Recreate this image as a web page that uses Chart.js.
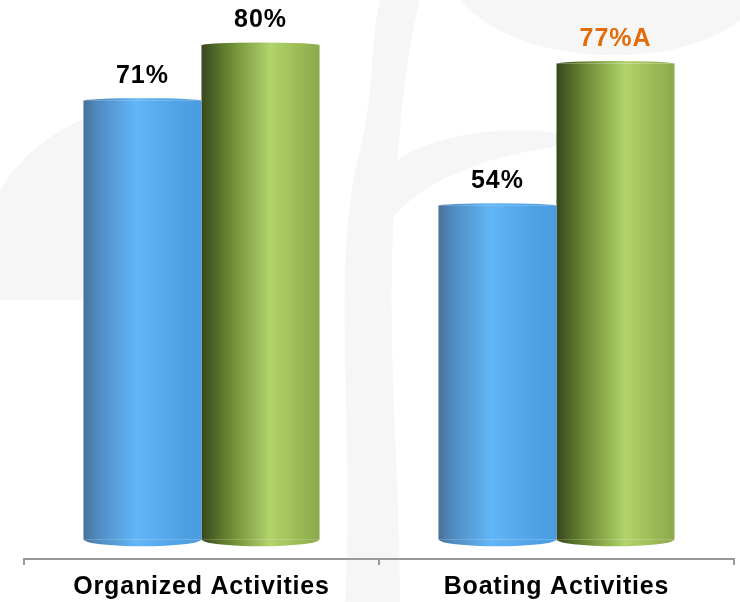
<!DOCTYPE html>
<html>
<head>
  <title>Activities</title>
  <script src="https://cdn.jsdelivr.net/npm/chart.js"></script>
  <style>
    html, body { margin: 0; background: #fff; overflow: hidden; }
    #wrap { width: 740px; height: 610px; }
  </style>
</head>
<body>
  <div id="wrap"><canvas id="chart"></canvas></div>
  <script>
    const categories = ['Organized Activities', 'Boating Activities'];
    const blueValues = [71, 54];
    const greenValues = [80, 77];
    const blueLabels = ['71%', '54%'];
    const greenLabels = ['80%', '77%A'];
    const greenLabelColors = ['#000000', '#e36c0a'];

    const blueStops = [[0, '#4a7096'], [0.12, '#4f8bc2'], [0.45, '#62b6f7'], [0.75, '#52a5e8'], [1, '#4a9bdf']];
    const greenStops = [[0, '#37471d'], [0.2, '#62802e'], [0.58, '#b2d46c'], [0.82, '#9cbb56'], [1, '#8ba94a']];

    function shade(c, bar, stops) {
      const left = bar.x - bar.width / 2;
      const g = c.createLinearGradient(left, 0, left + bar.width, 0);
      stops.forEach(s => g.addColorStop(s[0], s[1]));
      return g;
    }

    // faint tree watermark behind the chart, wider lettering like the original
    const backdrop = {
      id: 'backdrop',
      beforeLayout(chart) { chart.ctx.letterSpacing = '0.8px'; },
      beforeDraw(chart) {
        const c = chart.ctx;
        c.letterSpacing = '0.8px';
        c.save();
        c.fillStyle = '#f6f6f6';
        c.beginPath();
        c.moveTo(345, 610);
        c.bezierCurveTo(355, 420, 330, 260, 360, 150);
        c.bezierCurveTo(375, 90, 370, 40, 380, 0);
        c.lineTo(420, 0);
        c.bezierCurveTo(405, 60, 400, 120, 395, 200);
        c.bezierCurveTo(385, 330, 400, 460, 400, 610);
        c.closePath();
        c.fill();
        c.beginPath();
        c.moveTo(460, 0);
        c.bezierCurveTo(520, 70, 680, 70, 740, 20);
        c.lineTo(740, 0);
        c.closePath();
        c.fill();
        c.beginPath();
        c.moveTo(0, 190);
        c.bezierCurveTo(30, 140, 80, 115, 120, 110);
        c.lineTo(120, 300);
        c.lineTo(0, 300);
        c.closePath();
        c.fill();
        c.beginPath();
        c.moveTo(380, 175);
        c.bezierCurveTo(420, 130, 520, 120, 600, 140);
        c.bezierCurveTo(520, 150, 440, 165, 395, 215);
        c.closePath();
        c.fill();
        c.restore();
      },
      beforeDatasetsDraw(chart) {
        const c = chart.ctx;
        chart.data.datasets.forEach((ds, di) => {
          chart.getDatasetMeta(di).data.forEach(bar => {
            // each bar gets its own options so the gradient fits its own width
            bar.options = Object.assign({}, bar.options, {
              backgroundColor: shade(c, bar, di === 0 ? blueStops : greenStops)
            });
          });
        });
      }
    };

    // rounded ends and value labels
    const cylEnds = {
      id: 'cylEnds',
      afterDatasetsDraw(chart) {
        const c = chart.ctx;
        chart.data.datasets.forEach((ds, di) => {
          chart.getDatasetMeta(di).data.forEach((bar, i) => {
            const w = bar.width;
            c.save();
            c.fillStyle = shade(c, bar, di === 0 ? blueStops : greenStops);
            c.beginPath();
            c.ellipse(bar.x, bar.base, w / 2, 7, 0, 0, Math.PI);
            c.fill();
            c.beginPath();
            c.ellipse(bar.x, bar.y, w / 2, 2.5, 0, Math.PI, 2 * Math.PI);
            c.fill();
            c.letterSpacing = '1px';
            c.font = 'bold 25px "Liberation Sans", Arial, sans-serif';
            c.textAlign = 'center';
            c.textBaseline = 'middle';
            c.fillStyle = di === 0 ? '#000000' : greenLabelColors[i];
            c.fillText(di === 0 ? blueLabels[i] : greenLabels[i], bar.x, bar.y - 25);
            c.restore();
          });
        });
      }
    };

    new Chart(document.getElementById('chart'), {
      type: 'bar',
      data: {
        labels: categories,
        datasets: [
          { label: 'Blue', data: blueValues, backgroundColor: '#62b6f7' },
          { label: 'Green', data: greenValues, backgroundColor: '#b2d46c' }
        ]
      },
      options: {
        responsive: true,
        maintainAspectRatio: false,
        animation: false,
        layout: { padding: { left: 24, right: 6, top: 0, bottom: 0 } },
        categoryPercentage: 0.665,
        barPercentage: 1,
        plugins: { legend: { display: false }, tooltip: { enabled: false } },
        scales: {
          x: {
            grid: { drawOnChartArea: false, tickLength: 6, color: '#9a9a9a', lineWidth: 2 },
            border: { color: '#9a9a9a', width: 2 },
            ticks: {
              color: '#000',
              padding: 10,
              font: { family: '"Liberation Sans", Arial, sans-serif', size: 25, weight: 'bold', lineHeight: 1 }
            }
          },
          y: { display: false, min: -3.2, max: 87.3 }
        }
      },
      plugins: [backdrop, cylEnds]
    });
  </script>
</body>
</html>
